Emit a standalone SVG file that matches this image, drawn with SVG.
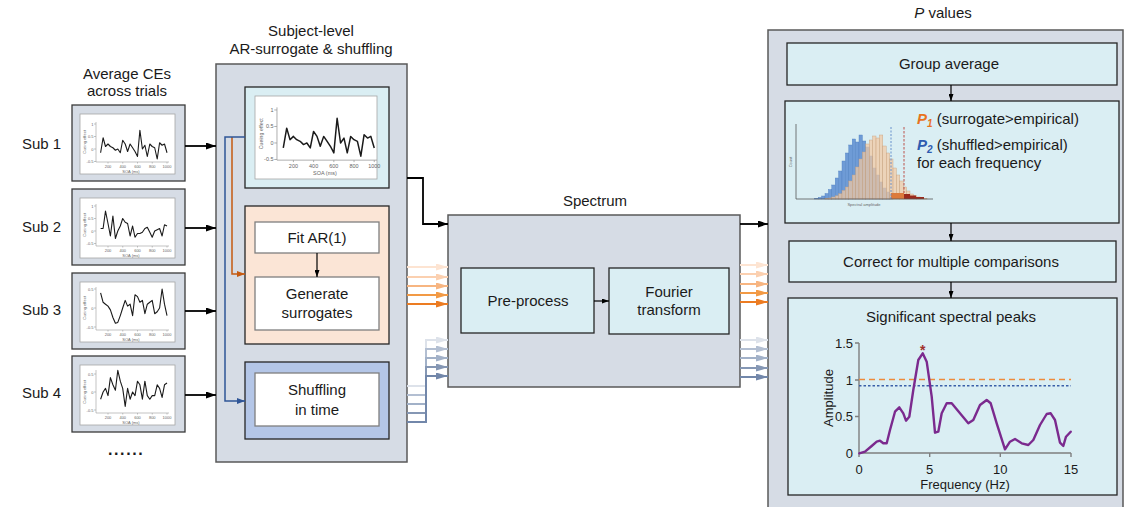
<svg xmlns="http://www.w3.org/2000/svg" xmlns:xlink="http://www.w3.org/1999/xlink" width="1126" height="507" viewBox="0 0 1126 507">
<style>
.t{font-family:"Liberation Sans",Arial,sans-serif;fill:#1a1a1a}
.f15{font-size:15px}
.f13{font-size:13px}
.c{text-anchor:middle}
.e{text-anchor:end}
.gray{fill:#d6dce5;stroke:#595959;stroke-width:1.5}
.thumb{fill:#d6dce5;stroke:#3a3a3a;stroke-width:1.3}
.lb{fill:#daeef3;stroke:#262626;stroke-width:1.3}
.wb{fill:#fff;stroke:#7f7f7f;stroke-width:1.3}
.wp{fill:#fff;stroke:#a6a6a6;stroke-width:0.8}
.tiny{font-family:"Liberation Sans",Arial,sans-serif;font-size:4px;fill:#666}
.ax{stroke:#9a9a9a;stroke-width:0.6;fill:none}
.dl{fill:none;stroke:#1a1a1a;stroke-width:1.1;stroke-linejoin:round}
.blk{stroke:#000;stroke-width:1.8;fill:none}
.thin{stroke:#000;stroke-width:1.2;fill:none}
.hb{fill:#6e9bd6;stroke:#4f7fc0;stroke-width:0.4}
.hs{fill:#f2c9a2;fill-opacity:0.72;stroke:#c9a07c;stroke-width:0.4}
</style>
<defs>
<marker id="ah" viewBox="0 0 10 7" refX="10" refY="3.5" markerWidth="10" markerHeight="7" markerUnits="userSpaceOnUse" orient="auto"><path d="M0,0 L10,3.5 L0,7 z" fill="#000"/></marker>
<marker id="ahs" viewBox="0 0 7 5" refX="7" refY="2.5" markerWidth="7" markerHeight="5" markerUnits="userSpaceOnUse" orient="auto"><path d="M0,0 L7,2.5 L0,5 z" fill="#000"/></marker>
<marker id="ahb" viewBox="0 0 8 6" refX="8" refY="3" markerWidth="8" markerHeight="6" markerUnits="userSpaceOnUse" orient="auto"><path d="M0,0 L8,3 L0,6 z" fill="#2f5597"/></marker>
<marker id="aho" viewBox="0 0 8 6" refX="8" refY="3" markerWidth="8" markerHeight="6" markerUnits="userSpaceOnUse" orient="auto"><path d="M0,0 L8,3 L0,6 z" fill="#c55a11"/></marker>
<marker id="o1" viewBox="0 0 12 7" refX="12" refY="3.5" markerWidth="12" markerHeight="7" markerUnits="userSpaceOnUse" orient="auto"><path d="M0,0 L12,3.5 L0,7 z" fill="#fde4d2"/></marker>
<marker id="o2" viewBox="0 0 12 7" refX="12" refY="3.5" markerWidth="12" markerHeight="7" markerUnits="userSpaceOnUse" orient="auto"><path d="M0,0 L12,3.5 L0,7 z" fill="#fbd0b0"/></marker>
<marker id="o3" viewBox="0 0 12 7" refX="12" refY="3.5" markerWidth="12" markerHeight="7" markerUnits="userSpaceOnUse" orient="auto"><path d="M0,0 L12,3.5 L0,7 z" fill="#f7b581"/></marker>
<marker id="o4" viewBox="0 0 12 7" refX="12" refY="3.5" markerWidth="12" markerHeight="7" markerUnits="userSpaceOnUse" orient="auto"><path d="M0,0 L12,3.5 L0,7 z" fill="#f29a45"/></marker>
<marker id="o5" viewBox="0 0 12 7" refX="12" refY="3.5" markerWidth="12" markerHeight="7" markerUnits="userSpaceOnUse" orient="auto"><path d="M0,0 L12,3.5 L0,7 z" fill="#ec7c22"/></marker>
<marker id="b1" viewBox="0 0 12 7" refX="12" refY="3.5" markerWidth="12" markerHeight="7" markerUnits="userSpaceOnUse" orient="auto"><path d="M0,0 L12,3.5 L0,7 z" fill="#dde2ea"/></marker>
<marker id="b2" viewBox="0 0 12 7" refX="12" refY="3.5" markerWidth="12" markerHeight="7" markerUnits="userSpaceOnUse" orient="auto"><path d="M0,0 L12,3.5 L0,7 z" fill="#b3bfd2"/></marker>
<marker id="b3" viewBox="0 0 12 7" refX="12" refY="3.5" markerWidth="12" markerHeight="7" markerUnits="userSpaceOnUse" orient="auto"><path d="M0,0 L12,3.5 L0,7 z" fill="#a2b1c8"/></marker>
<marker id="b4" viewBox="0 0 12 7" refX="12" refY="3.5" markerWidth="12" markerHeight="7" markerUnits="userSpaceOnUse" orient="auto"><path d="M0,0 L12,3.5 L0,7 z" fill="#8597b4"/></marker>
<marker id="b5" viewBox="0 0 12 7" refX="12" refY="3.5" markerWidth="12" markerHeight="7" markerUnits="userSpaceOnUse" orient="auto"><path d="M0,0 L12,3.5 L0,7 z" fill="#7287aa"/></marker>
<g id="plot1">
<path class="ax" d="M24,17 V57 H97 M22,19 H24 M22,31.5 H24 M22,44 H24 M22,56.5 H24 M36,57 V58.5 M50.75,57 V58.5 M65.5,57 V58.5 M80.25,57 V58.5 M95,57 V58.5"/>
<text class="tiny e" x="21.5" y="20.5">1</text><text class="tiny e" x="21.5" y="33">0.5</text><text class="tiny e" x="21.5" y="45.5">0</text><text class="tiny e" x="21.5" y="58">-0.5</text>
<text class="tiny c" x="36" y="63">200</text><text class="tiny c" x="50.75" y="63">400</text><text class="tiny c" x="65.5" y="63">600</text><text class="tiny c" x="80.25" y="63">800</text><text class="tiny c" x="95" y="63">1000</text>
<text class="tiny c" x="59" y="68">SOA (ms)</text>
<text class="tiny c" transform="translate(14,37) rotate(-90)">Cueing effect</text>
<polyline class="dl" points="28.6,47.75 31.1,32.75 33.5,41.5 36,39 38.4,41.5 40.9,42.75 43.4,45.25 45.8,44 48.3,47.75 50.7,35.25 53.2,39 55.6,46.5 58.1,39 60.6,42.75 63,46.5 65.5,51.5 67.9,25.25 70.4,44 72.9,40.25 75.3,51.5 77.8,39 80.2,41.5 82.7,42.75 85.2,54 87.6,37.75 90.1,40.25 92.5,39 95,47.75"/>
</g>
</defs>

<!-- titles -->
<g id="titles">
<text class="t f15 c" x="127" y="79">Average CEs</text>
<text class="t f15 c" x="127" y="96">across trials</text>
<text class="t f15 c" x="311" y="36">Subject-level</text>
<text class="t f15 c" x="311" y="54">AR-surrogate &amp; shuffling</text>
<text class="t f15 c" x="595" y="206">Spectrum</text>
<text class="t f15 c" x="943" y="18"><tspan font-style="italic">P</tspan> values</text>
</g>

<!-- subject thumbnails -->
<g id="sub1">
<text class="t f15" x="22" y="149">Sub 1</text>
<g transform="translate(72,105)"><rect class="thumb" x="0" y="0" width="113" height="76"/><rect class="wp" x="8" y="9" width="95" height="60"/><use xlink:href="#plot1"/></g>
</g>
<g id="sub2">
<text class="t f15" x="22" y="232">Sub 2</text>
<g transform="translate(72,189)"><rect class="thumb" x="0" y="0" width="113" height="76"/><rect class="wp" x="8" y="9" width="95" height="60"/>
<path class="ax" d="M24,15 V57 H97 M22,17 H24 M22,29.5 H24 M22,42 H24 M22,54.5 H24 M36,57 V58.5 M50.75,57 V58.5 M65.5,57 V58.5 M80.25,57 V58.5 M95,57 V58.5"/>
<text class="tiny e" x="21.5" y="18.5">1</text><text class="tiny e" x="21.5" y="31">0.5</text><text class="tiny e" x="21.5" y="43.5">0</text><text class="tiny e" x="21.5" y="56">-0.5</text>
<text class="tiny c" x="36" y="63">200</text><text class="tiny c" x="50.75" y="63">400</text><text class="tiny c" x="65.5" y="63">600</text><text class="tiny c" x="80.25" y="63">800</text><text class="tiny c" x="95" y="63">1000</text>
<text class="tiny c" x="59" y="68">SOA (ms)</text>
<text class="tiny c" transform="translate(14,36) rotate(-90)">Cueing effect</text>
<polyline class="dl" points="28.6,39.5 31.1,39.5 33.5,22 36,34.5 38.4,47 40.9,27 43.4,49.5 45.8,42 48.3,37 50.7,29.5 53.2,33.25 55.6,34.5 58.1,47 60.6,37 63,48.25 65.5,44.5 67.9,44.5 70.4,43.25 72.9,39.5 75.3,38.25 77.8,43.25 80.2,48.25 82.7,42 85.2,40.75 87.6,39.5 90.1,47 92.5,35.75 95,37"/>
</g>
</g>
<g id="sub3">
<text class="t f15" x="22" y="315">Sub 3</text>
<g transform="translate(72,273)"><rect class="thumb" x="0" y="0" width="113" height="76"/><rect class="wp" x="8" y="9" width="95" height="60"/>
<path class="ax" d="M24,14 V57 H97 M22,16 H24 M22,35 H24 M22,54 H24 M36,57 V58.5 M50.75,57 V58.5 M65.5,57 V58.5 M80.25,57 V58.5 M95,57 V58.5"/>
<text class="tiny e" x="21.5" y="17.5">0.5</text><text class="tiny e" x="21.5" y="36.5">0</text><text class="tiny e" x="21.5" y="55.5">-0.5</text>
<text class="tiny c" x="36" y="63">200</text><text class="tiny c" x="50.75" y="63">400</text><text class="tiny c" x="65.5" y="63">600</text><text class="tiny c" x="80.25" y="63">800</text><text class="tiny c" x="95" y="63">1000</text>
<text class="tiny c" x="59" y="68">SOA (ms)</text>
<text class="tiny c" transform="translate(14,35) rotate(-90)">Cueing effect</text>
<polyline class="dl" points="28.6,19.8 31.1,29.3 33.5,31.2 36,33.1 38.4,36.9 40.9,44.5 43.4,50.2 45.8,49.4 48.3,42.6 50.7,35 53.2,27.4 55.6,33.1 58.1,31.2 60.6,42.6 63,21.7 65.5,23.6 67.9,29.3 70.4,27.4 72.9,40.7 75.3,31.2 77.8,29.3 80.2,27.4 82.7,40.7 85.2,38.8 87.6,35 90.1,16 92.5,31.2 95,42.6"/>
</g>
</g>
<g id="sub4">
<text class="t f15" x="22" y="398">Sub 4</text>
<g transform="translate(72,356)"><rect class="thumb" x="0" y="0" width="113" height="76"/><rect class="wp" x="8" y="9" width="95" height="60"/>
<path class="ax" d="M24,14 V57 H97 M22,18 H24 M22,36 H24 M22,54 H24 M36,57 V58.5 M50.75,57 V58.5 M65.5,57 V58.5 M80.25,57 V58.5 M95,57 V58.5"/>
<text class="tiny e" x="21.5" y="19.5">0.5</text><text class="tiny e" x="21.5" y="37.5">0</text><text class="tiny e" x="21.5" y="55.5">-0.5</text>
<text class="tiny c" x="36" y="63">200</text><text class="tiny c" x="50.75" y="63">400</text><text class="tiny c" x="65.5" y="63">600</text><text class="tiny c" x="80.25" y="63">800</text><text class="tiny c" x="95" y="63">1000</text>
<text class="tiny c" x="59" y="68">SOA (ms)</text>
<text class="tiny c" transform="translate(14,36) rotate(-90)">Cueing effect</text>
<polyline class="dl" points="28.6,43.2 31.1,36 33.5,32.4 36,39.6 38.4,21.6 40.9,28.8 43.4,34.2 45.8,14.4 48.3,25.2 50.7,32.4 53.2,50.4 55.6,32.4 58.1,43.2 60.6,36 63,39.6 65.5,25.2 67.9,28.8 70.4,43.2 72.9,25.2 75.3,39.6 77.8,43.2 80.2,39.6 82.7,39.6 85.2,28.8 87.6,32.4 90.1,41.4 92.5,28.8 95,27"/>
</g>
</g>
<g id="more"><text class="t" x="108" y="455" font-size="16" font-weight="bold" letter-spacing="1.6">......</text></g>

<!-- subject-level box -->
<g id="subject-level">
<rect class="gray" x="216" y="64" width="191" height="398"/>
</g>
<g id="empirical">
<rect class="lb" x="245" y="87" width="144" height="101"/>
<rect class="wp" x="255" y="96" width="122" height="83"/>
<use xlink:href="#plot1" transform="translate(244.1,84.9) scale(1.37,1.32)"/>
</g>
<g id="ar-surrogate">
<rect fill="#fbe5d6" stroke="#262626" stroke-width="1.3" x="245" y="206" width="144" height="138"/>
</g>
<g id="fit-ar">
<rect class="wb" x="255" y="222" width="124" height="31"/>
<text class="t f15 c" x="317" y="243">Fit AR(1)</text>
</g>
<g id="generate">
<rect class="wb" x="255" y="277" width="124" height="53"/>
<text class="t f15 c" x="317" y="299">Generate</text>
<text class="t f15 c" x="317" y="318">surrogates</text>
</g>
<g id="shuffling-outer">
<rect fill="#b4c6e7" stroke="#262626" stroke-width="1.3" x="245" y="362" width="144" height="77"/>
</g>
<g id="shuffling">
<rect class="wb" x="255" y="373" width="124" height="53"/>
<text class="t f15 c" x="317" y="395">Shuffling</text>
<text class="t f15 c" x="317" y="415">in time</text>
</g>

<!-- spectrum -->
<g id="spectrum">
<rect class="gray" x="448" y="215" width="292" height="172"/>
</g>
<g id="preprocess">
<rect class="lb" x="461" y="268" width="133" height="65"/>
<text class="t f15 c" x="528" y="306">Pre-process</text>
</g>
<g id="fourier">
<rect class="lb" x="609" y="268" width="120" height="66"/>
<text class="t f15 c" x="669" y="297">Fourier</text>
<text class="t f15 c" x="669" y="315">transform</text>
</g>

<!-- P values -->
<g id="pvalues">
<rect class="gray" x="768" y="30" width="355" height="490"/>
</g>
<g id="group-average">
<rect class="lb" x="787" y="43" width="330" height="42"/>
<text class="t f15 c" x="949" y="69">Group average</text>
</g>
<g id="pvalue-dist">
<rect class="lb" x="785" y="101" width="334" height="122"/>
<g id="hist">
<rect class="hb" x="814.8" y="198.2" width="3.4" height="0.8"/>
<rect class="hb" x="818.2" y="197.4" width="3.4" height="1.6"/>
<rect class="hb" x="821.6" y="196" width="3.4" height="3"/>
<rect class="hb" x="825" y="193.5" width="3.4" height="5.5"/>
<rect class="hb" x="828.4" y="189.5" width="3.4" height="9.5"/>
<rect class="hb" x="831.8" y="185" width="3.4" height="14"/>
<rect class="hb" x="835.2" y="178" width="3.4" height="21"/>
<rect class="hb" x="838.6" y="171" width="3.4" height="28"/>
<rect class="hb" x="842" y="161" width="3.4" height="38"/>
<rect class="hb" x="845.4" y="153" width="3.4" height="46"/>
<rect class="hb" x="848.8" y="145" width="3.4" height="54"/>
<rect class="hb" x="852.2" y="139" width="3.4" height="60"/>
<rect class="hb" x="855.6" y="142" width="3.4" height="57"/>
<rect class="hb" x="859" y="135" width="3.4" height="64"/>
<rect class="hb" x="862.4" y="141" width="3.4" height="58"/>
<rect class="hb" x="865.8" y="147" width="3.4" height="52"/>
<rect class="hb" x="869.2" y="156" width="3.4" height="43"/>
<rect class="hb" x="872.6" y="168" width="3.4" height="31"/>
<rect class="hb" x="876" y="175" width="3.4" height="24"/>
<rect class="hb" x="879.4" y="182" width="3.4" height="17"/>
<rect class="hb" x="882.8" y="188" width="3.4" height="11"/>
<rect class="hb" x="886.2" y="192" width="3.4" height="7"/>
<rect class="hb" x="889.6" y="195" width="3.4" height="4"/>
<rect class="hs" x="825" y="198.4" width="3.4" height="0.6"/>
<rect class="hs" x="828.4" y="198" width="3.4" height="1"/>
<rect class="hs" x="831.8" y="197" width="3.4" height="2"/>
<rect class="hs" x="835.2" y="195.8" width="3.4" height="3.2"/>
<rect class="hs" x="838.6" y="193.8" width="3.4" height="5.2"/>
<rect class="hs" x="842" y="190.5" width="3.4" height="8.5"/>
<rect class="hs" x="845.4" y="187" width="3.4" height="12"/>
<rect class="hs" x="848.8" y="181" width="3.4" height="18"/>
<rect class="hs" x="852.2" y="175" width="3.4" height="24"/>
<rect class="hs" x="855.6" y="167" width="3.4" height="32"/>
<rect class="hs" x="859" y="159" width="3.4" height="40"/>
<rect class="hs" x="862.4" y="152" width="3.4" height="47"/>
<rect class="hs" x="865.8" y="144" width="3.4" height="55"/>
<rect class="hs" x="869.2" y="140" width="3.4" height="59"/>
<rect class="hs" x="872.6" y="136" width="3.4" height="63"/>
<rect class="hs" x="876" y="138" width="3.4" height="61"/>
<rect class="hs" x="879.4" y="135" width="3.4" height="64"/>
<rect class="hs" x="882.8" y="146" width="3.4" height="53"/>
<rect class="hs" x="886.2" y="153" width="3.4" height="46"/>
<rect class="hs" x="889.6" y="159" width="3.4" height="40"/>
<rect class="hs" x="893" y="168" width="3.4" height="31"/>
<rect class="hs" x="896.4" y="175" width="3.4" height="24"/>
<rect class="hs" x="899.8" y="181" width="3.4" height="18"/>
<rect class="hs" x="903.2" y="187" width="3.4" height="12"/>
<rect class="hs" x="906.6" y="191" width="3.4" height="8"/>
<rect class="hs" x="910" y="194" width="3.4" height="5"/>
<rect class="hs" x="913.4" y="195.8" width="3.4" height="3.2"/>
<rect class="hs" x="916.8" y="197" width="3.4" height="2"/>
<rect class="hs" x="920.2" y="197.8" width="3.4" height="1.2"/>
<rect class="hs" x="923.6" y="198.3" width="3.4" height="0.7"/>
<rect fill="#dc7a3c" x="891" y="193" width="13" height="6"/>
<rect fill="#9b2a1c" x="904" y="194" width="6" height="5"/>
<rect fill="#9b2a1c" x="910" y="195.5" width="6" height="3.5"/>
<rect fill="#9b2a1c" x="916" y="197" width="8" height="2"/>
<line x1="891" y1="127" x2="891" y2="199" stroke="#5b86c8" stroke-width="0.9" stroke-dasharray="2,1.5"/>
<line x1="904" y1="127" x2="904" y2="193" stroke="#b8423a" stroke-width="0.9" stroke-dasharray="2.5,1.5"/>
<path d="M796,124 V199 H933" fill="none" stroke="#555" stroke-width="0.8"/>
<text class="tiny c" transform="translate(792,162) rotate(-90)" font-size="5">Count</text>
<text class="tiny c" x="864" y="206" font-size="5">Spectral amplitude</text>
</g>
<text class="t f15" x="917" y="124"><tspan fill="#e8731f" font-weight="bold" font-style="italic">P</tspan><tspan fill="#e8731f" font-weight="bold" font-style="italic" font-size="10" dy="3">1</tspan><tspan dy="-3"> (surrogate&gt;empirical)</tspan></text>
<text class="t f15" x="917" y="150"><tspan fill="#2e5cb0" font-weight="bold" font-style="italic">P</tspan><tspan fill="#2e5cb0" font-weight="bold" font-style="italic" font-size="10" dy="3">2</tspan><tspan dy="-3"> (shuffled&gt;empirical)</tspan></text>
<text class="t f15" x="917" y="168">for each frequency</text>
</g>
<g id="correct">
<rect class="lb" x="789" y="241" width="327" height="41"/>
<text class="t f15 c" x="951" y="267">Correct for multiple comparisons</text>
</g>
<g id="peaks">
<rect class="lb" x="788" y="298" width="329" height="197"/>
<text class="t f15 c" x="951" y="322">Significant spectral peaks</text>
<path d="M855,343 H859 M855,380 H859 M855,416.5 H859 M859,343 V453 H1071 M859,453 V457 M929.7,453 V457 M1000.3,453 V457 M1071,453 V457" fill="none" stroke="#7f7f7f" stroke-width="1.4"/>
<text class="t f13 e" x="853" y="348">1.5</text>
<text class="t f13 e" x="853" y="385">1</text>
<text class="t f13 e" x="853" y="421">0.5</text>
<text class="t f13 e" x="853" y="458">0</text>
<text class="t f13 c" x="859" y="474">0</text>
<text class="t f13 c" x="929.7" y="474">5</text>
<text class="t f13 c" x="1000.3" y="474">10</text>
<text class="t f13 c" x="1071" y="474">15</text>
<text class="t f13 c" x="965" y="489">Frequency (Hz)</text>
<text class="t f13 c" transform="translate(833,398) rotate(-90)">Amplitude</text>
<line x1="859" y1="379.5" x2="1071" y2="379.5" stroke="#ee8a3a" stroke-width="1.6" stroke-dasharray="6,4"/>
<line x1="859" y1="385.7" x2="1071" y2="385.7" stroke="#3a5fa8" stroke-width="1.4" stroke-dasharray="2.5,2"/>
<polyline fill="none" stroke="#7b2a8e" stroke-width="2.4" stroke-linejoin="round" stroke-linecap="round" points="859.3,453.3 865,451.7 871.7,446 876.7,441.7 880,440.7 883.3,443.3 886.7,443.3 890,430 895,411.7 899.3,407.3 903.3,413.3 906,420.7 909.3,416.7 913.3,390 918.3,360 922.7,353.3 926.7,361.7 931.7,396.7 935,432.7 938.3,431.7 941.7,413.3 946.7,403.3 951.7,403.3 960,413.3 968.3,423.3 973.3,420 980,405 986.7,400 990.7,403.3 996.7,423.3 1005,449.3 1010,441.7 1015,439 1021.7,443.3 1028.3,445 1033.3,440 1040,425 1046.7,414 1050.7,413.3 1055,420 1060,442.7 1063.3,446 1066,436.7 1070.7,431.7"/>
<text x="922.7" y="355" font-family="Liberation Sans,Arial,sans-serif" font-size="14" font-weight="bold" fill="#a0302a" text-anchor="middle">*</text>
</g>

<!-- connectors -->
<g id="connectors">
<line class="blk" x1="185" y1="146" x2="216" y2="146" marker-end="url(#ah)"/>
<line class="blk" x1="185" y1="228" x2="216" y2="228" marker-end="url(#ah)"/>
<line class="blk" x1="185" y1="311" x2="216" y2="311" marker-end="url(#ah)"/>
<line class="blk" x1="185" y1="395" x2="216" y2="395" marker-end="url(#ah)"/>
<path d="M232,137 V274 H245" fill="none" stroke="#c55a11" stroke-width="1.5" marker-end="url(#aho)"/>
<path d="M245,137 H225 V401 H245" fill="none" stroke="#2f5597" stroke-width="1.5" marker-end="url(#ahb)"/>
<line class="thin" x1="317" y1="253" x2="317" y2="277" marker-end="url(#ahs)"/>
<path class="blk" d="M407,178 H423 V224 H448" marker-end="url(#ah)"/>
<line class="blk" x1="740" y1="224" x2="768" y2="224" marker-end="url(#ah)"/>
<line class="thin" x1="594" y1="301" x2="609" y2="301" marker-end="url(#ahs)"/>
<line class="thin" x1="951" y1="85" x2="951" y2="101" marker-end="url(#ahs)"/>
<line class="thin" x1="951" y1="223" x2="951" y2="241" marker-end="url(#ahs)"/>
<line class="thin" x1="951" y1="282" x2="951" y2="298" marker-end="url(#ahs)"/>
<line x1="407" y1="267" x2="448" y2="267" stroke="#fde4d2" stroke-width="2" marker-end="url(#o1)"/>
<line x1="407" y1="277" x2="448" y2="277" stroke="#fbd0b0" stroke-width="2" marker-end="url(#o2)"/>
<line x1="407" y1="286" x2="448" y2="286" stroke="#f7b581" stroke-width="2" marker-end="url(#o3)"/>
<line x1="407" y1="295" x2="448" y2="295" stroke="#f29a45" stroke-width="2" marker-end="url(#o4)"/>
<line x1="407" y1="304" x2="448" y2="304" stroke="#ec7c22" stroke-width="2" marker-end="url(#o5)"/>
<path d="M407,386 H426 V340 H448" fill="none" stroke="#dde2ea" stroke-width="2" marker-end="url(#b1)"/>
<path d="M407,395 H426 V349 H448" fill="none" stroke="#b3bfd2" stroke-width="2" marker-end="url(#b2)"/>
<path d="M407,404 H426 V358 H448" fill="none" stroke="#a2b1c8" stroke-width="2" marker-end="url(#b3)"/>
<path d="M407,413 H426 V367 H448" fill="none" stroke="#8597b4" stroke-width="2" marker-end="url(#b4)"/>
<path d="M407,422 H426 V376 H448" fill="none" stroke="#7287aa" stroke-width="2" marker-end="url(#b5)"/>
<line x1="740" y1="265" x2="768" y2="265" stroke="#fde4d2" stroke-width="2" marker-end="url(#o1)"/>
<line x1="740" y1="274" x2="768" y2="274" stroke="#fbd0b0" stroke-width="2" marker-end="url(#o2)"/>
<line x1="740" y1="284" x2="768" y2="284" stroke="#f7b581" stroke-width="2" marker-end="url(#o3)"/>
<line x1="740" y1="293" x2="768" y2="293" stroke="#f29a45" stroke-width="2" marker-end="url(#o4)"/>
<line x1="740" y1="302" x2="768" y2="302" stroke="#ec7c22" stroke-width="2" marker-end="url(#o5)"/>
<line x1="740" y1="340" x2="768" y2="340" stroke="#dde2ea" stroke-width="2" marker-end="url(#b1)"/>
<line x1="740" y1="349" x2="768" y2="349" stroke="#b3bfd2" stroke-width="2" marker-end="url(#b2)"/>
<line x1="740" y1="358" x2="768" y2="358" stroke="#a2b1c8" stroke-width="2" marker-end="url(#b3)"/>
<line x1="740" y1="368" x2="768" y2="368" stroke="#8597b4" stroke-width="2" marker-end="url(#b4)"/>
<line x1="740" y1="377" x2="768" y2="377" stroke="#7287aa" stroke-width="2" marker-end="url(#b5)"/>
</g>
</svg>
